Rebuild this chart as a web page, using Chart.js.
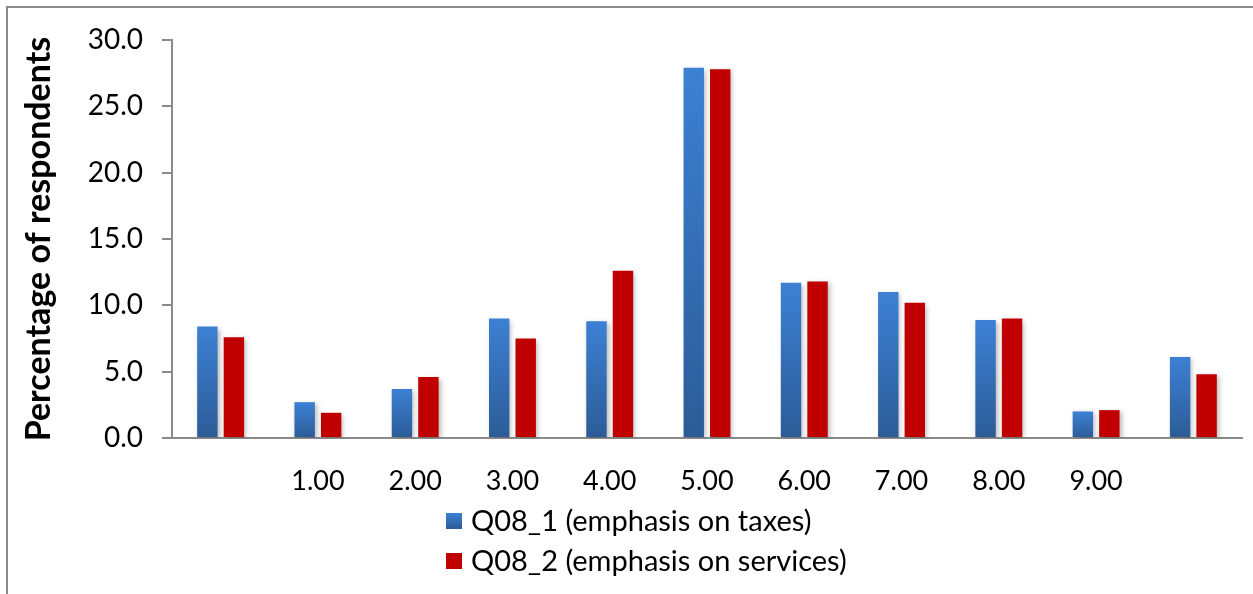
<!DOCTYPE html>
<html>
<head>
<meta charset="utf-8">
<script src="https://cdn.jsdelivr.net/npm/chart.js@4"></script>
<style>
  html, body { margin: 0; padding: 0; background: #fff; }
  #wrap { position: relative; width: 1253px; height: 594px; overflow: hidden; }
  #frame { position: absolute; left: 6px; top: 6px; width: 1300px; height: 700px;
           border-left: 2px solid #8a8a8a; border-top: 2px solid #8a8a8a; }
  canvas { position: absolute; left: 0; top: 0; }
</style>
</head>
<body>
<div id="wrap">
  <div id="frame"></div>
  <canvas id="chart" width="1253" height="594"></canvas>
</div>
<script>
// Kategoriler ve seriler
const categories = ['', '1.00', '2.00', '3.00', '4.00', '5.00', '6.00', '7.00', '8.00', '9.00', ''];
const taxes = [8.4, 2.7, 3.7, 9.0, 8.8, 27.9, 11.7, 11.0, 8.9, 2.0, 6.1];
const services = [7.6, 1.9, 4.6, 7.5, 12.6, 27.8, 11.8, 10.2, 9.0, 2.1, 4.8];
const yTicks = [0, 5, 10, 15, 20, 25, 30];
const seriesNames = ['Q08_1 (emphasis on taxes)', 'Q08_2 (emphasis on services)'];

const FONT = 'Lato, "Open Sans", sans-serif';

// mavi çubuklar için dikey degrade (her çubuk kendi içinde)
function blueFill(ctx) {
    const chart = ctx.chart;
    if (!chart.chartArea || ctx.type !== 'data') return '#3a78c8';
    const y = chart.scales.y;
    const top = y.getPixelForValue(ctx.raw);
    const base = y.getPixelForValue(0);
    const g = chart.ctx.createLinearGradient(0, top, 0, base);
    g.addColorStop(0, '#3d80d4');
    g.addColorStop(1, '#2c5c97');
    return g;
}

const barShadow = {
    id: 'barShadow',
    beforeDatasetsDraw(chart) {
        const c = chart.ctx;
        c.save();
        c.shadowColor = 'rgba(0,0,0,0.28)';
        c.shadowBlur = 5;
        c.shadowOffsetX = 2;
        c.shadowOffsetY = 2;
    },
    afterDatasetsDraw(chart) {
        chart.ctx.restore();
    }
};

// alt alta legend
const stackedLegend = {
    id: 'stackedLegend',
    afterDraw(chart) {
        const c = chart.ctx;
        const x0 = 446, rows = [521, 561], box = 16;
        c.save();
        c.font = '29px ' + FONT;
        c.textBaseline = 'middle';
        c.textAlign = 'left';
        chart.data.datasets.forEach((ds, i) => {
            const cy = rows[i];
            if (i === 0) {
                const g = c.createLinearGradient(0, cy - box / 2, 0, cy + box / 2);
                g.addColorStop(0, '#3d80d4');
                g.addColorStop(1, '#2c5c97');
                c.fillStyle = g;
            } else {
                c.fillStyle = ds.backgroundColor;
            }
            c.fillRect(x0, cy - box / 2, box, box);
            c.fillStyle = '#000';
            c.fillText(ds.label, x0 + box + 9, cy + 1);
        });
        c.restore();
    }
};

const ctx = document.getElementById('chart').getContext('2d');
new Chart(ctx, {
    type: 'bar',
    data: {
        labels: categories,
        datasets: [{
            label: seriesNames[0],
            data: taxes,
            backgroundColor: blueFill,
            categoryPercentage: 0.545,
            barPercentage: 0.77
        }, {
            label: seriesNames[1],
            data: services,
            backgroundColor: '#c00000',
            categoryPercentage: 0.545,
            barPercentage: 0.77
        }]
    },
    options: {
        responsive: false,
        animation: false,
        layout: { padding: { left: 0, top: 40, right: 11, bottom: 0 } },
        plugins: {
            legend: { display: false },
            tooltip: { enabled: false }
        },
        scales: {
            x: {
                grid: { display: false },
                border: { display: true, color: '#8a8a8a', width: 2 },
                ticks: {
                    color: '#000',
                    font: { family: FONT, size: 27 },
                    padding: 19,
                    maxRotation: 0,
                    autoSkip: false
                },
                afterFit(scale) { scale.height = 156; }
            },
            y: {
                min: 0,
                max: 30,
                afterBuildTicks(scale) { scale.ticks = yTicks.map(v => ({ value: v })); },
                grid: { drawOnChartArea: false, drawTicks: true, tickLength: 10, color: '#8a8a8a', lineWidth: 2 },
                border: { display: true, color: '#8a8a8a', width: 2 },
                ticks: {
                    color: '#000',
                    font: { family: FONT, size: 28 },
                    padding: 19,
                    callback: v => Number(v).toFixed(1)
                },
                title: {
                    display: true,
                    text: 'Percentage of respondents',
                    color: '#000',
                    font: { family: FONT, size: 34, weight: 'bold' },
                    padding: { top: 19, bottom: 0 }
                },
                afterFit(scale) { scale.width = 172; }
            }
        }
    },
    plugins: [barShadow, stackedLegend]
});
</script>
</body>
</html>
